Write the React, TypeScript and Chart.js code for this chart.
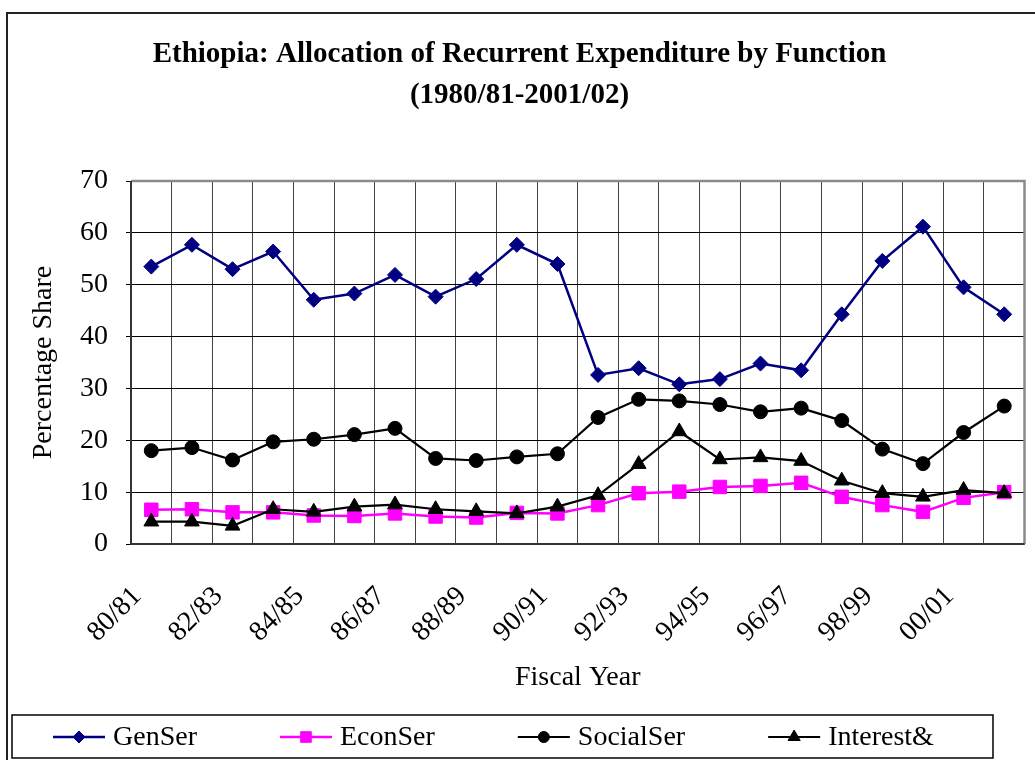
import { useEffect, useRef } from 'react';
import { Chart, registerables } from 'chart.js';
import { drawPoint } from 'chart.js/helpers';

Chart.register(...registerables);

const categories = ['80/81', '81/82', '82/83', '83/84', '84/85', '85/86', '86/87', '87/88', '88/89', '89/90', '90/91', '91/92', '92/93', '93/94', '94/95', '95/96', '96/97', '97/98', '98/99', '99/00', '00/01', '01/02'];
const genSer = [53.5, 57.7, 53.0, 56.4, 47.1, 48.3, 51.9, 47.7, 51.1, 57.7, 54.0, 32.6, 33.9, 30.8, 31.8, 34.8, 33.5, 44.3, 54.6, 61.2, 49.5, 44.3];
const econSer = [6.6, 6.7, 6.1, 6.1, 5.5, 5.4, 5.9, 5.3, 5.1, 6.0, 5.9, 7.5, 9.8, 10.1, 11.0, 11.2, 11.8, 9.1, 7.5, 6.2, 8.9, 10.0];
const socialSer = [18.0, 18.6, 16.2, 19.7, 20.2, 21.1, 22.3, 16.5, 16.1, 16.8, 17.4, 24.4, 27.9, 27.6, 26.9, 25.5, 26.2, 23.8, 18.3, 15.5, 21.5, 26.6];
const interest = [4.3, 4.3, 3.5, 6.7, 6.2, 7.2, 7.6, 6.7, 6.3, 5.9, 7.2, 9.4, 15.4, 21.7, 16.3, 16.7, 16.0, 12.2, 9.8, 9.1, 10.4, 9.8];
const seriesNames = ['GenSer', 'EconSer', 'SocialSer', 'Interest&'];
const titleLines = ['Ethiopia: Allocation of Recurrent Expenditure by Function', '(1980/81-2001/02)'];
const yMin = 0;
const yMax = 70;
const yStep = 10;

const FONT = '"Liberation Serif", "Times New Roman", serif';

const legendRadius: Record<string, number> = { rectRot: 6, rect: 7.5, circle: 5.5, triangle: 7 };

const framePlugin = {
  id: 'frame',
  beforeDraw(chart: any) {
    const ctx = chart.ctx;
    ctx.save();
    ctx.fillStyle = '#fff';
    ctx.fillRect(0, 0, chart.width, chart.height);
    ctx.strokeStyle = '#222';
    ctx.lineWidth = 2;
    ctx.beginPath();
    ctx.moveTo(7, chart.height);
    ctx.lineTo(7, 13);
    ctx.lineTo(chart.width, 13);
    ctx.stroke();
    ctx.restore();
  },
  beforeDatasetsDraw(chart: any) {
    const { ctx, chartArea: a } = chart;
    ctx.save();
    ctx.strokeStyle = '#8a8a8a';
    ctx.lineWidth = 2.5;
    ctx.beginPath();
    ctx.moveTo(a.left, a.top);
    ctx.lineTo(a.right, a.top);
    ctx.lineTo(a.right, a.bottom);
    ctx.stroke();
    ctx.strokeStyle = '#333';
    ctx.lineWidth = 2;
    ctx.beginPath();
    ctx.moveTo(a.left, a.top);
    ctx.lineTo(a.left, a.bottom);
    ctx.lineTo(a.right, a.bottom);
    ctx.stroke();
    ctx.restore();
  },
  afterDraw(chart: any) {
    const ctx = chart.ctx;
    ctx.save();
    ctx.strokeStyle = '#000';
    ctx.lineWidth = 1.5;
    ctx.strokeRect(12, 715, 981, 43);
    ctx.font = '28px ' + FONT;
    ctx.textBaseline = 'middle';
    ctx.textAlign = 'left';
    const y = 737;
    let x = 53;
    chart.data.datasets.forEach((ds: any) => {
      ctx.strokeStyle = ds.borderColor;
      ctx.lineWidth = ds.borderWidth;
      ctx.beginPath();
      ctx.moveTo(x, y);
      ctx.lineTo(x + 52, y);
      ctx.stroke();
      ctx.fillStyle = ds.pointBackgroundColor;
      ctx.strokeStyle = ds.pointBorderColor;
      ctx.lineWidth = 1;
      drawPoint(ctx, { pointStyle: ds.pointStyle, radius: legendRadius[ds.pointStyle], borderWidth: 1, rotation: 0 } as any, x + 26, y);
      ctx.fillStyle = '#000';
      ctx.fillText(ds.label, x + 60, y + 1);
      const w = ctx.measureText(ds.label).width;
      x += 60 + w + 83;
    });
    ctx.restore();
  },
};

export default function App() {
  const ref = useRef<HTMLCanvasElement | null>(null);
  useEffect(() => {
    document.body.style.margin = '0';
    const canvas = ref.current!;
    const mk = (label: string, data: number[], color: string, style: string, r: number, bw: number, order: number) => ({
      label,
      data,
      borderColor: color,
      backgroundColor: color,
      pointBackgroundColor: color,
      pointBorderColor: color,
      pointBorderWidth: 1,
      pointStyle: style,
      pointRadius: r,
      pointHoverRadius: r,
      borderWidth: bw,
      tension: 0,
      fill: false,
      order,
    });
    const chart = new Chart(canvas, {
      type: 'line',
      data: {
        labels: categories,
        datasets: [
          mk(seriesNames[0], genSer, '#000080', 'rectRot', 7.5, 2.5, 3),
          mk(seriesNames[1], econSer, '#ff00ff', 'rect', 9.5, 2.5, 2),
          mk(seriesNames[2], socialSer, '#000000', 'circle', 7, 2.2, 1),
          mk(seriesNames[3], interest, '#000000', 'triangle', 8.5, 2.2, 0),
        ],
      },
      options: {
        responsive: false,
        animation: false,
        devicePixelRatio: 1,
        layout: { padding: { left: 12, right: 8, top: 0, bottom: 60 } },
        plugins: {
          legend: { display: false },
          tooltip: { enabled: false },
          title: {
            display: true,
            text: titleLines,
            color: '#000',
            font: { family: FONT, size: 29, weight: 'bold', lineHeight: 1.38 },
            padding: { top: 35, bottom: 66 },
          },
        },
        scales: {
          x: {
            offset: true,
            grid: { offset: true, color: '#444', lineWidth: 1, drawTicks: false },
            border: { display: false },
            afterFit: (s: any) => {
              s.height = 156;
              s.paddingLeft = 0;
              s.paddingRight = 0;
            },
            ticks: {
              autoSkip: false,
              maxRotation: 45,
              minRotation: 45,
              padding: 36,
              labelOffset: -14,
              color: '#000',
              font: { family: FONT, size: 28 },
              callback: (_v: any, i: number) => (i % 2 === 0 ? categories[i] : ''),
            },
            title: {
              display: true,
              text: 'Fiscal Year',
              color: '#000',
              font: { family: FONT, size: 28 },
              padding: { top: 9, bottom: 6 },
            },
          },
          y: {
            min: yMin,
            max: yMax,
            grid: { color: '#000', lineWidth: 1, tickLength: 5 },
            border: { display: false },
            afterFit: (s: any) => {
              s.width = 119;
            },
            ticks: {
              stepSize: yStep,
              padding: 18,
              color: '#000',
              font: { family: FONT, size: 28 },
            },
            title: {
              display: true,
              text: 'Percentage Share',
              color: '#000',
              font: { family: FONT, size: 28 },
              padding: { top: 15, bottom: 21 },
            },
          },
        },
      },
      plugins: [framePlugin],
    } as any);
    return () => chart.destroy();
  }, []);
  return (
    <div style={{ position: 'absolute', left: 0, top: 0, width: 1035, height: 760 }}>
      <canvas ref={ref} width={1035} height={760} />
    </div>
  );
}
